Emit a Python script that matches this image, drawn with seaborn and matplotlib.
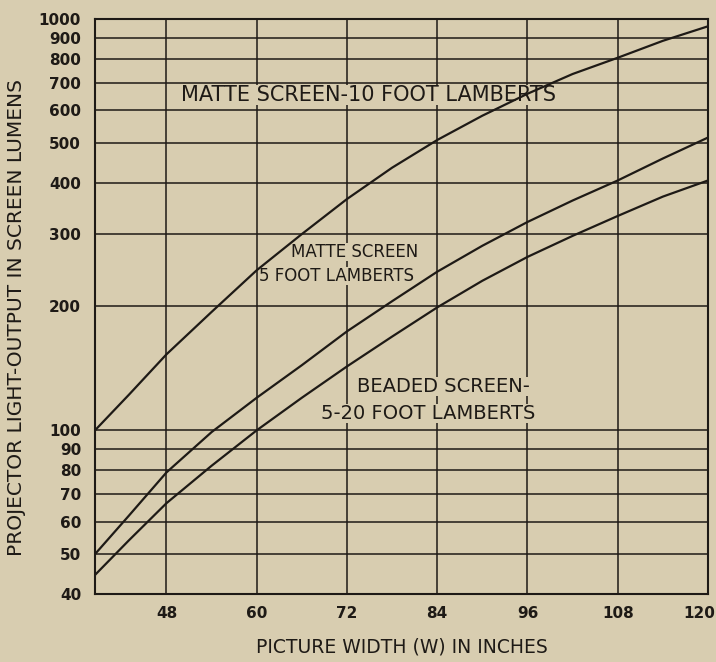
import numpy as np
import pandas as pd
import matplotlib
matplotlib.use("Agg")
import matplotlib.pyplot as plt
import matplotlib.ticker as mticker
from matplotlib.transforms import ScaledTranslation
import seaborn as sns

# Picture width (inches) and lumens
width_in = [38.5, 43, 48, 54, 60, 66, 72, 78, 84, 90, 96, 102, 108, 114, 120]
matte_10 = [100, 122, 153, 194, 245, 300, 365, 435, 508, 582, 658, 735, 805, 885, 960]
matte_5 = [50, 62, 79, 99, 120, 144, 174, 206, 243, 281, 321, 362, 405, 458, 515]
beaded = [44.5, 54, 66.5, 82, 100, 120, 143, 169, 199, 231, 264, 297, 332, 370, 405]

x_ticks = [48, 60, 72, 84, 96, 108, 120]
y_ticks = [40, 50, 60, 70, 80, 90, 100, 200, 300, 400, 500, 600, 700, 800, 900, 1000]

PAPER = "#d8cdb0"
INK = "#1e1a16"

sns.set_theme(style="white")
plt.rcParams['font.family'] = ['DejaVu Sans']

df = pd.DataFrame({
    "width": width_in * 3,
    "lumens": matte_10 + matte_5 + beaded,
    "curve": ["m10"] * len(width_in) + ["m5"] * len(width_in) + ["bead"] * len(width_in),
})

fig = plt.figure(figsize=(7.16, 6.62), dpi=100, facecolor=PAPER)
ax = fig.add_axes([95 / 716, 1 - 594 / 662, 613 / 716, 575 / 662])
ax.set_facecolor(PAPER)

ax.set_yscale("log")
ax.set_xlim(38.5, 120)
ax.set_ylim(40, 1000)

# grid lines drawn under the labels, labels under the curves
ax.set_axisbelow(True)
ax.xaxis.set_major_locator(mticker.FixedLocator(x_ticks))
ax.yaxis.set_major_locator(mticker.FixedLocator(y_ticks))
ax.yaxis.set_minor_locator(mticker.NullLocator())
ax.set_xticklabels([str(v) for v in x_ticks])
ax.set_yticklabels([str(v) for v in y_ticks])
ax.grid(True, which="major", color=INK, linewidth=1.1)

for name in ["m10", "m5", "bead"]:
    sns.lineplot(data=df[df.curve == name], x="width", y="lumens", color=INK,
                 linewidth=1.6, estimator=None, sort=False, ax=ax, zorder=2)

for side in ax.spines.values():
    side.set_color(INK)
    side.set_linewidth(1.5)

ax.tick_params(axis="both", length=0, colors=INK, labelsize=11)
ax.tick_params(axis="x", pad=9)
ax.tick_params(axis="y", pad=10)
for lab in ax.get_xticklabels() + ax.get_yticklabels():
    lab.set_fontweight("bold")
# last x label sits against the right edge of the page
last = ax.get_xticklabels()[-1]
last.set_transform(last.get_transform() + ScaledTranslation(-6 / 72, 0, fig.dpi_scale_trans))

ax.set_xlabel("PICTURE WIDTH (W) IN INCHES", fontsize=13.5, color=INK)
ax.xaxis.set_label_coords(0.5, -0.075)
ax.set_ylabel("PROJECTOR LIGHT-OUTPUT IN SCREEN LUMENS", fontsize=14.5, color=INK)
ax.yaxis.set_label_coords(-0.112, 0.48)

# curve labels, with a paper-coloured box so grid lines break around them
box = dict(facecolor=PAPER, edgecolor="none", pad=0)
ax.text(50, 655, "MATTE SCREEN-10 FOOT LAMBERTS", fontsize=15, color=INK,
        va="center", ha="left", bbox=box, zorder=1.5)
ax.text(64.5, 271, "MATTE SCREEN", fontsize=12, color=INK,
        va="center", ha="left", bbox=box, zorder=1.5)
ax.text(60.3, 237, "5 FOOT LAMBERTS", fontsize=12, color=INK,
        va="center", ha="left", bbox=box, zorder=1.5)
ax.text(73.4, 128, "BEADED SCREEN-", fontsize=14, color=INK,
        va="center", ha="left", bbox=box, zorder=1.5)
ax.text(68.5, 110, "5-20 FOOT LAMBERTS", fontsize=14, color=INK,
        va="center", ha="left", bbox=box, zorder=1.5)

plt.savefig("out.png", dpi=100, facecolor=PAPER)
plt.close()
